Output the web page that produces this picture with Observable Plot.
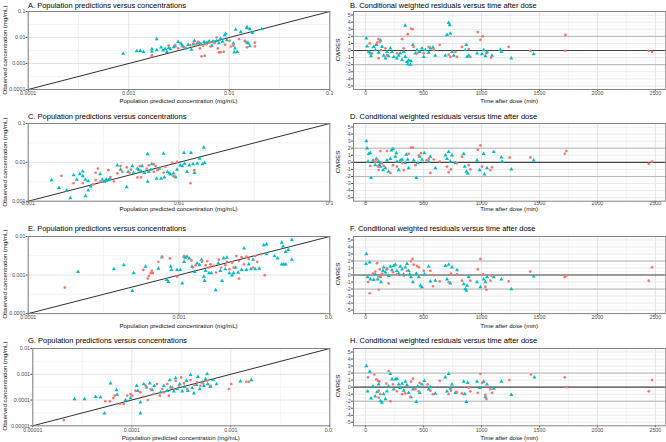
<!DOCTYPE html>
<html><head><meta charset="utf-8">
<script src="https://cdn.jsdelivr.net/npm/d3@7"></script>
<script src="https://cdn.jsdelivr.net/npm/@observablehq/plot@0.6"></script>
<style>
html,body{margin:0;padding:0;background:#fff;}
#root{position:relative;width:666px;height:442px;overflow:hidden;background:#fff;}
</style></head><body><div id="root"></div>
<script>
// ---------- tick labels ----------
const ticksA = ["0.0001","0.001","0.01","0.1"];
const ticksC = ["0.001","0.01","0.1"];
const ticksE = ["0.0001","0.001","0.01"];
const ticksG = ["0.00001","0.0001","0.001","0.01"];
const timeTicks = [0,500,1000,1500,2000,2500];
const cwresTicks = [-5,-4,-3,-2,-1,0,1,2,3,4,5];

// ---------- panel titles ----------
const titles = {
  A:"A. Population predictions versus concentrations",
  B:"B. Conditional weighted residuals versus time after dose",
  C:"C. Population predictions versus concentrations",
  D:"D. Conditional weighted residuals versus time after dose",
  E:"E. Population predictions versus concentrations",
  F:"F. Conditional weighted residuals versus time after dose",
  G:"G. Population predictions versus concentrations",
  H:"H. Conditional weighted residuals versus time after dose"
};
const xTitleLeft = "Population predicted concentration (mg/mL)";
const yTitleLeft = "Observed concentration (mg/mL)";
const xTitleRight = "Time after dose (min)";
const yTitleRight = "CWRES";

// ---------- data: [population predicted, observed] (mg/mL) ----------
const A_red = [[0.0017,0.0021],[0.0025,0.0049],[0.0029,0.0051],[0.0031,0.0038],[0.0035,0.0042],[0.0041,0.0051],[0.0044,0.006],[0.0047,0.0053],[0.0051,0.0038],[0.0055,0.0049],[0.0059,0.0055],[0.0064,0.0064],[0.0071,0.006],[0.0057,0.002],[0.0077,0.0038],[0.0082,0.0027],[0.0088,0.0028],[0.0091,0.0053],[0.0101,0.0075],[0.0104,0.0045],[0.011,0.0049],[0.0125,0.0086],[0.0143,0.0075],[0.015,0.0042],[0.018,0.0045],[0.0065,0.0045],[0.0049,0.0068],[0.0075,0.01],[0.0053,0.0019],[0.0079,0.0027],[0.0017,0.0019],[0.018,0.0063],[0.0143,0.0072]];
const A_teal = [[0.00088,0.0024],[0.0012,0.003],[0.0013,0.0031],[0.0014,0.0028],[0.0017,0.0036],[0.0017,0.0029],[0.0019,0.0086],[0.0021,0.0042],[0.0022,0.0032],[0.0024,0.0028],[0.0026,0.0036],[0.0028,0.0043],[0.0031,0.0068],[0.0034,0.0049],[0.0037,0.0038],[0.0042,0.0034],[0.0045,0.0075],[0.0048,0.006],[0.0052,0.0057],[0.0056,0.0068],[0.006,0.0064],[0.0067,0.0049],[0.0069,0.007],[0.0075,0.0075],[0.0082,0.009],[0.009,0.012],[0.0092,0.014],[0.011,0.006],[0.0114,0.0038],[0.012,0.0028],[0.0116,0.02],[0.015,0.023],[0.016,0.021],[0.017,0.015],[0.021,0.021],[0.015,0.0064],[0.0155,0.006],[0.015,0.025],[0.013,0.016],[0.016,0.0047],[0.0112,0.0027],[0.0025,0.004],[0.0029,0.0047],[0.0033,0.0058],[0.0039,0.0052],[0.0044,0.0055],[0.005,0.0062],[0.0058,0.0058],[0.0063,0.0072],[0.0072,0.0066],[0.0079,0.0061],[0.0086,0.007],[0.0095,0.008],[0.0035,0.0044],[0.0019,0.0033],[0.0023,0.0037]];

const C_red = [[0.00166,0.0045],[0.002,0.0029],[0.0023,0.0029],[0.0027,0.0027],[0.0028,0.0035],[0.0029,0.0069],[0.0028,0.0054],[0.003,0.0032],[0.0034,0.0063],[0.0035,0.0042],[0.0039,0.0052],[0.0041,0.008],[0.0042,0.0057],[0.0045,0.0074],[0.0047,0.0054],[0.0048,0.0065],[0.0053,0.0041],[0.0055,0.008],[0.0056,0.0041],[0.0061,0.0069],[0.0063,0.0084],[0.0068,0.009],[0.007,0.008],[0.0072,0.0063],[0.0079,0.0054],[0.0081,0.0077],[0.009,0.0097],[0.0092,0.0044],[0.0097,0.0103],[0.0119,0.0029],[0.0126,0.0063],[0.0068,0.0057],[0.0037,0.0032]];
const C_teal = [[0.00143,0.0035],[0.0016,0.0022],[0.0018,0.0019],[0.0019,0.0012],[0.002,0.0047],[0.0021,0.0036],[0.0022,0.005],[0.0023,0.0059],[0.0023,0.0044],[0.0024,0.0036],[0.0025,0.0033],[0.0026,0.0024],[0.0025,0.0019],[0.0024,0.00135],[0.003,0.005],[0.0031,0.0036],[0.0032,0.0032],[0.0033,0.0035],[0.0033,0.0036],[0.0034,0.0035],[0.0035,0.0038],[0.0039,0.0084],[0.0041,0.0065],[0.0045,0.0023],[0.0046,0.0057],[0.0049,0.008],[0.005,0.0054],[0.0053,0.0069],[0.0054,0.0063],[0.0056,0.006],[0.0057,0.008],[0.0059,0.0054],[0.0062,0.0162],[0.0062,0.0032],[0.0063,0.0057],[0.0065,0.0065],[0.0066,0.009],[0.0071,0.0038],[0.0074,0.0069],[0.0076,0.0038],[0.0079,0.0169],[0.008,0.0041],[0.0084,0.0057],[0.0086,0.0052],[0.0088,0.0049],[0.0092,0.0052],[0.0095,0.0042],[0.0097,0.0065],[0.0102,0.0084],[0.0105,0.008],[0.0108,0.0175],[0.0109,0.0093],[0.0113,0.0057],[0.0117,0.0084],[0.012,0.0175],[0.0124,0.009],[0.0127,0.0054],[0.0132,0.0093],[0.0137,0.0125],[0.0143,0.009],[0.0146,0.024],[0.0148,0.0097]];

const E_red = [[0.000175,0.00047],[0.00058,0.00136],[0.00062,0.00081],[0.00063,0.00095],[0.00065,0.00112],[0.00066,0.00129],[0.00067,0.00112],[0.00073,0.0022],[0.00077,0.003],[0.00087,0.0027],[0.00097,0.00091],[0.00108,0.0031],[0.00121,0.0024],[0.00124,0.00157],[0.00129,0.0018],[0.00142,0.0022],[0.0015,0.0018],[0.00154,0.0023],[0.00158,0.00157],[0.00162,0.0019],[0.0017,0.00173],[0.00176,0.00116],[0.00184,0.0025],[0.0019,0.00157],[0.00203,0.0018],[0.00208,0.0022],[0.00216,0.00142],[0.00225,0.0021],[0.0023,0.00157],[0.0024,0.0031],[0.0025,0.00081],[0.0025,0.0023],[0.0026,0.0029],[0.0027,0.0019],[0.0028,0.003],[0.0029,0.0026],[0.0031,0.00157],[0.0032,0.0031],[0.0033,0.0022],[0.0035,0.0035],[0.0037,0.00099]];
const E_teal = [[0.000214,0.00121],[0.00037,0.00142],[0.00043,0.0018],[0.00049,0.00039],[0.0005,0.00112],[0.0006,0.00166],[0.00073,0.00148],[0.00077,0.0029],[0.00083,0.00075],[0.00085,0.00067],[0.00088,0.00166],[0.00089,0.00136],[0.00097,0.00136],[0.00102,0.00136],[0.00105,0.00061],[0.00108,0.003],[0.00108,0.0022],[0.0011,0.00285],[0.00113,0.003],[0.00117,0.0027],[0.00122,0.00166],[0.00127,0.00121],[0.00132,0.002],[0.00137,0.0018],[0.00141,0.0025],[0.00146,0.00091],[0.00148,0.00071],[0.0015,0.00129],[0.00158,0.00112],[0.00164,0.00112],[0.00175,0.00041],[0.00182,0.002],[0.00188,0.00129],[0.00193,0.00071],[0.00198,0.0027],[0.00203,0.00142],[0.00208,0.00285],[0.00216,0.00112],[0.00225,0.00099],[0.0023,0.00112],[0.00237,0.00157],[0.00247,0.00116],[0.0026,0.00136],[0.0027,0.0049],[0.0028,0.00136],[0.0029,0.0019],[0.003,0.00142],[0.0031,0.0025],[0.0032,0.00142],[0.0034,0.00148],[0.00365,0.006],[0.0038,0.0063],[0.0038,0.0035],[0.0043,0.0031],[0.0045,0.0027],[0.0048,0.0019],[0.0049,0.0055],[0.00495,0.0019],[0.0051,0.0019],[0.0053,0.0045],[0.0056,0.0025],[0.0056,0.0082],[0.0048,0.007],[0.0051,0.004]];

const G_red = [[0.0000206,0.0000167],[0.000054,0.000089],[0.00006,0.000089],[0.000065,0.000119],[0.000067,0.000147],[0.000076,0.00007],[0.000083,0.00007],[0.00009,0.000147],[0.000097,0.000171],[0.000101,0.000147],[0.000109,0.00023],[0.000122,0.000198],[0.00013,0.000134],[0.000138,0.00036],[0.000145,0.0001],[0.000155,0.000266],[0.000167,0.000171],[0.00018,0.000416],[0.000192,0.000147],[0.000203,0.000266],[0.000211,0.000198],[0.000228,0.000416],[0.000237,0.000147],[0.000256,0.000309],[0.000277,0.00056],[0.000299,0.000359],[0.000315,0.000755],[0.000336,0.000442],[0.000362,0.000266],[0.000392,0.000594],[0.000424,0.000392],[0.000457,0.000483],[0.000494,0.000359],[0.000526,0.000442],[0.000577,0.00056],[0.000624,0.000359],[0.000955,0.000266],[0.00101,0.000416],[0.00143,0.000513],[0.00152,0.000513]];
const G_teal = [[0.0000264,0.000109],[0.0000333,0.000109],[0.0000431,0.000134],[0.0000483,0.000126],[0.000053,0.0000303],[0.000061,0.000442],[0.00007,0.000244],[0.000071,0.000161],[0.0000865,0.0001],[0.000097,0.000119],[0.000112,0.000359],[0.000115,0.00023],[0.000122,0.0000303],[0.000122,0.000081],[0.000132,0.000416],[0.000141,0.000309],[0.000152,0.000442],[0.000161,0.000244],[0.000169,0.000359],[0.000195,0.000198],[0.000211,0.000359],[0.000228,0.00023],[0.000242,0.000594],[0.000246,0.000309],[0.000266,0.000216],[0.000277,0.000711],[0.000287,0.000266],[0.000305,0.000416],[0.000323,0.000216],[0.000341,0.000328],[0.000357,0.00056],[0.000368,0.00023],[0.000392,0.000957],[0.000407,0.000291],[0.000424,0.000181],[0.000451,0.000392],[0.000465,0.0008],[0.000486,0.000266],[0.000514,0.000483],[0.000535,0.000359],[0.000556,0.00065],[0.000577,0.00102],[0.000586,0.000416],[0.000624,0.000328],[0.000664,0.000594],[0.000718,0.000416],[0.00125,0.000528],[0.00161,0.000594]];

// ---------- data: [time after dose (min), CWRES] ----------
const B_red = [[35,1.0],[55,-0.4],[98,1.1],[112,1.6],[121,1.2],[112,-1.1],[132,0.05],[170,0.3],[184,-0.7],[270,-0.4],[314,1.6],[328,0.3],[363,2.3],[391,3.1],[405,3.0],[414,0.5],[443,-0.4],[501,-0.4],[544,0.5],[587,0.05],[639,0.8],[716,-0.6],[731,-0.9],[774,-0.2],[788,-0.9],[831,0.5],[889,0.2],[903,-0.9],[967,2.6],[990,1.5],[1010,2.0],[1042,-0.4],[1082,-1.0],[1234,0.5],[1421,-0.05],[1723,2.2],[1723,-0.05],[2443,-0.05],[2471,-0.2]];
const B_teal = [[6,1.7],[12,0.6],[26,-0.2],[40,-0.4],[46,-0.8],[69,0.5],[83,0.05],[92,0.8],[112,-0.3],[127,1.4],[141,0.5],[155,-0.7],[170,-1.1],[184,-0.2],[198,-0.8],[213,0.3],[227,-0.2],[242,-0.9],[270,-1.1],[285,-0.7],[299,-0.4],[314,-1.3],[328,-0.2],[342,-0.9],[342,3.5],[357,-1.6],[363,-1.9],[371,-1.4],[386,-2.0],[391,-1.5],[408,0.8],[429,-0.4],[443,0.05],[466,-0.2],[486,0.3],[501,-0.9],[515,0.05],[544,-0.3],[558,0.3],[581,0.4],[601,-0.7],[688,-0.7],[702,2.2],[716,3.9],[725,3.6],[731,2.4],[745,-0.2],[760,-0.7],[860,0.05],[869,0.8],[875,-0.9],[889,-0.7],[961,-0.4],[1004,-0.5],[1018,0.05],[1033,-0.8],[1047,-0.2],[1090,-0.7],[1162,0.1],[1171,-0.2],[1257,-1.1],[1450,-0.5]];

const D_red = [[40,-0.5],[83,0.1],[98,0.4],[107,-0.6],[112,-1.1],[127,1.6],[141,-0.1],[155,-0.5],[184,1.6],[213,-1.5],[236,-0.4],[270,-0.6],[314,-0.1],[328,-1.1],[371,1.2],[391,2.1],[408,2.1],[429,-0.4],[458,1.0],[478,1.3],[524,0.3],[544,0.5],[558,-1.5],[587,0.4],[639,0.1],[702,-0.6],[716,-1.4],[736,-1.0],[788,-0.1],[831,0.8],[889,-0.4],[903,-1.0],[967,1.8],[990,2.4],[1004,-0.6],[1076,-1.1],[1090,-0.7],[1243,0.7],[1421,0.7],[1718,1.2],[1732,1.6],[2443,-0.2],[2471,0.1]];
const D_teal = [[6,3.0],[12,2.0],[26,1.2],[40,1.3],[20,0.1],[46,-2.2],[63,0.3],[83,-0.4],[92,0.5],[112,0.1],[118,-0.4],[127,-0.6],[132,-0.1],[150,-1.1],[170,-0.8],[184,0.3],[198,-1.3],[213,0.5],[222,1.7],[236,1.9],[256,0.8],[265,1.3],[270,0.1],[285,-1.1],[299,0.3],[314,0.4],[342,-0.1],[351,1.1],[363,0.4],[371,-0.8],[414,0.3],[437,-2.2],[449,-0.1],[466,0.8],[486,0.4],[506,1.3],[544,0.1],[558,0.8],[601,-0.8],[688,1.0],[702,0.5],[716,1.5],[731,0.1],[745,1.0],[774,-0.1],[846,1.2],[855,-0.6],[869,-1.3],[881,-1.6],[961,0.3],[984,-1.1],[1018,1.2],[1024,-1.7],[1047,-0.8],[1105,1.5],[1171,0.7],[1176,0.1],[1257,-1.0],[1450,0.3]];

const F_red = [[20,-1.0],[35,-2.6],[63,0.2],[83,0.5],[98,1.7],[107,-0.1],[112,-2.1],[121,0.8],[127,-0.3],[141,0.2],[184,0.8],[198,-1.2],[236,0.4],[270,0.1],[328,-0.1],[357,0.6],[391,2.0],[405,2.3],[414,1.5],[443,1.3],[458,1.1],[501,0.6],[558,0.6],[581,-1.6],[587,0.0],[639,-0.9],[716,-1.0],[736,0.2],[788,0.1],[831,-0.8],[903,-0.8],[967,0.8],[990,2.3],[1013,0.1],[1033,-1.7],[1042,-2.1],[1076,-0.8],[1085,-0.1],[1234,-0.9],[1421,0.5],[1718,-0.3],[1732,-0.1],[2443,-0.8],[2471,1.1]];
const F_teal = [[6,3.0],[3,1.6],[35,1.8],[17,-0.3],[40,-0.6],[69,-0.7],[83,0.1],[104,-0.6],[121,-0.2],[132,-1.0],[150,0.6],[155,1.1],[170,0.4],[184,0.9],[198,-0.1],[213,1.2],[227,0.7],[242,1.3],[256,1.5],[270,0.6],[285,0.2],[299,1.2],[314,0.8],[328,0.1],[342,1.1],[357,1.6],[371,0.6],[380,0.1],[391,-0.3],[408,-1.0],[437,0.2],[458,-0.3],[472,-1.5],[486,-1.7],[506,0.1],[544,1.2],[558,-0.9],[601,-0.8],[688,1.3],[702,-0.6],[716,1.5],[731,-1.2],[745,1.1],[788,0.7],[846,-1.3],[860,-2.0],[869,-2.2],[875,-1.5],[889,-0.3],[961,-1.0],[990,-1.7],[1018,-0.6],[1033,-1.0],[1047,-0.3],[1105,-0.3],[1171,-0.6],[1257,-2.0],[1450,-0.2]];

const H_red = [[20,1.4],[75,1.8],[92,1.1],[107,0.9],[118,0.8],[112,-0.5],[127,-1.0],[112,-1.5],[178,0.5],[198,2.3],[213,-2.0],[236,0.4],[270,-0.6],[314,-1.0],[342,-0.9],[386,-1.4],[391,0.8],[408,1.2],[429,-0.3],[458,-0.6],[466,0.6],[535,0.4],[558,-0.5],[581,-1.0],[639,0.9],[716,-1.0],[736,-0.5],[788,-0.7],[831,-0.9],[889,-0.1],[903,-0.6],[967,-0.8],[990,1.9],[1004,0.6],[1033,-1.1],[1042,-1.7],[1076,-0.3],[1090,-0.8],[1240,1.0],[1427,1.8],[1718,1.4],[1732,0.0],[2443,-0.6],[2471,1.0]];
const H_teal = [[6,3.0],[17,-0.6],[35,2.2],[46,-1.6],[63,0.1],[83,-1.3],[98,-0.7],[112,0.4],[127,-2.0],[141,-2.2],[155,-1.0],[170,-1.7],[184,-0.6],[198,0.1],[213,1.9],[227,1.1],[242,-0.3],[256,1.1],[270,1.2],[285,0.4],[299,-0.1],[314,0.5],[328,-0.5],[342,0.8],[357,0.3],[371,-0.8],[391,-1.4],[408,-0.3],[437,-2.1],[449,0.1],[466,-0.8],[486,0.4],[506,0.9],[544,-0.3],[558,0.0],[601,-0.9],[688,1.4],[702,-0.6],[716,1.9],[731,-0.2],[745,0.4],[774,-0.8],[846,0.8],[855,-1.0],[869,-2.1],[881,0.6],[961,0.8],[984,-0.1],[1018,0.8],[1033,-1.4],[1047,0.4],[1105,-0.2],[1171,0.8],[1257,-1.1],[1456,1.4]];

// ---------- layout (pixel positions of each row) ----------
const FONT = '"Liberation Sans", Arial, Helvetica, sans-serif';
const RED = "#F8766D", TEAL = "#00BFC4";
const rows = [
  {top:11,    bottom:89,    titleY:5.6,   tickPad:0,    xTitleY:101},
  {top:123.3, bottom:201,   titleY:117.3, tickPad:-1.6, xTitleY:209.2},
  {top:235.7, bottom:312.8, titleY:228.7, tickPad:0,    xTitleY:326},
  {top:347.7, bottom:425,   titleY:340.7, tickPad:0,    xTitleY:437.6}
];
const leftPanels = [
  {key:"A", ticks:ticksA, red:A_red, teal:A_teal, plotLeft:27.7},
  {key:"C", ticks:ticksC, red:C_red, teal:C_teal, plotLeft:27.7},
  {key:"E", ticks:ticksE, red:E_red, teal:E_teal, plotLeft:27.7},
  {key:"G", ticks:ticksG, red:G_red, teal:G_teal, plotLeft:32.3}
];
const rightPanels = [
  {key:"B", red:B_red, teal:B_teal},
  {key:"D", red:D_red, teal:D_teal},
  {key:"F", red:F_red, teal:F_teal},
  {key:"H", red:H_red, teal:H_teal}
];

const root = document.getElementById("root");
function addText(txt, x, y, size, transform, color) {
  const d = document.createElement("div");
  d.textContent = txt;
  d.style.cssText = `position:absolute;left:${x}px;top:${y}px;font-size:${size}px;line-height:1;white-space:nowrap;color:${color||"#000"};font-family:${FONT};transform:${transform};transform-origin:center center;`;
  root.appendChild(d);
}
function place(svg, x, y) {
  svg.style.position = "absolute";
  svg.style.left = x + "px";
  svg.style.top = y + "px";
  root.appendChild(svg);
}
const MT = 3, MB = 16;
const baseStyle = {fontFamily: FONT, fontSize: "5.3px", color: "#4d4d4d", background: "transparent", overflow: "hidden"};
const TRI_R = 1.5, CIR_R = 1.35;

leftPanels.forEach((p, i) => {
  const r = rows[i];
  const ticks = p.ticks.map(Number);
  const dom = [ticks[0], ticks[ticks.length - 1]];
  const minor = ticks.slice(1).map(t => t / Math.sqrt(10));
  const fmt = d => p.ticks[ticks.indexOf(d)] ?? "";
  const h = r.bottom - r.top;
  const svg = Plot.plot({
    width: 333, height: h + MT + MB,
    marginLeft: p.plotLeft, marginRight: 333 - 329.3, marginTop: MT, marginBottom: MB,
    style: baseStyle,
    x: {type: "log", domain: dom, ticks, tickFormat: fmt, tickSize: 2, tickPadding: r.tickPad, label: null},
    y: {type: "log", domain: dom, ticks, tickFormat: fmt, tickSize: 2, tickPadding: 0.8, label: null},
    marks: [
      Plot.ruleX(minor, {stroke: "#efefef", strokeWidth: 0.7}),
      Plot.ruleY(minor, {stroke: "#efefef", strokeWidth: 0.7}),
      Plot.ruleX(ticks, {stroke: "#e4e4e4", strokeWidth: 1}),
      Plot.ruleY(ticks, {stroke: "#e4e4e4", strokeWidth: 1}),
      Plot.line([[dom[0], dom[0]], [dom[1], dom[1]]], {x: d => d[0], y: d => d[1], stroke: "#1a1a1a", strokeWidth: 0.9}),
      Plot.dot(p.teal, {x: d => d[0], y: d => d[1], symbol: "triangle", fill: TEAL, r: TRI_R}),
      Plot.dot(p.red, {x: d => d[0], y: d => d[1], fill: RED, r: CIR_R}),
      Plot.frame({stroke: "#858585", strokeWidth: 1})
    ]
  });
  place(svg, 0, r.top - MT);
  addText(titles[p.key], 28, r.titleY, 7.5, "translate(0,-50%)");
  addText(xTitleLeft, (p.plotLeft + 329.3) / 2, r.xTitleY, 6.1, "translate(-50%,-50%)", "#111");
  addText(yTitleLeft, 5.2, (r.top + r.bottom) / 2, 6.1, "translate(-50%,-50%) rotate(-90deg)", "#111");
});

const minorTime = timeTicks.slice(1).map(t => t - 250);
const minorCw = cwresTicks.slice(1).map(t => t - 0.5);
rightPanels.forEach((p, i) => {
  const r = rows[i];
  const h = r.bottom - r.top;
  const svg = Plot.plot({
    width: 333, height: h + MT + MB,
    marginLeft: 353 - 333, marginRight: 666 - 665.3, marginTop: MT, marginBottom: MB,
    style: baseStyle,
    x: {domain: [-105, 2590], ticks: timeTicks, tickFormat: d => String(d), tickSize: 2, tickPadding: r.tickPad, label: null},
    y: {domain: [-5.5, 5.5], ticks: cwresTicks, tickFormat: d => String(d), tickSize: 2, tickPadding: 0.8, label: null},
    marks: [
      Plot.ruleX(minorTime, {stroke: "#efefef", strokeWidth: 0.7}),
      Plot.ruleY(minorCw, {stroke: "#f1f1f1", strokeWidth: 0.6}),
      Plot.ruleX(timeTicks, {stroke: "#e4e4e4", strokeWidth: 1}),
      Plot.ruleY(cwresTicks, {stroke: "#e6e6e6", strokeWidth: 0.9}),
      Plot.ruleY([2, -2], {stroke: "#b5b5b5", strokeWidth: 1}),
      Plot.ruleY([0], {stroke: "#444", strokeWidth: 1.1}),
      Plot.dot(p.teal, {x: d => d[0], y: d => d[1], symbol: "triangle", fill: TEAL, r: TRI_R}),
      Plot.dot(p.red, {x: d => d[0], y: d => d[1], fill: RED, r: CIR_R}),
      Plot.frame({stroke: "#858585", strokeWidth: 1})
    ]
  });
  place(svg, 333, r.top - MT);
  addText(titles[p.key], 350, r.titleY, 7.5, "translate(0,-50%)");
  addText(xTitleRight, (353 + 665.3) / 2, r.xTitleY, 6.1, "translate(-50%,-50%)", "#111");
  addText(yTitleRight, 338.2, (r.top + r.bottom) / 2, 6.1, "translate(-50%,-50%) rotate(-90deg)", "#111");
});
</script></body></html>
